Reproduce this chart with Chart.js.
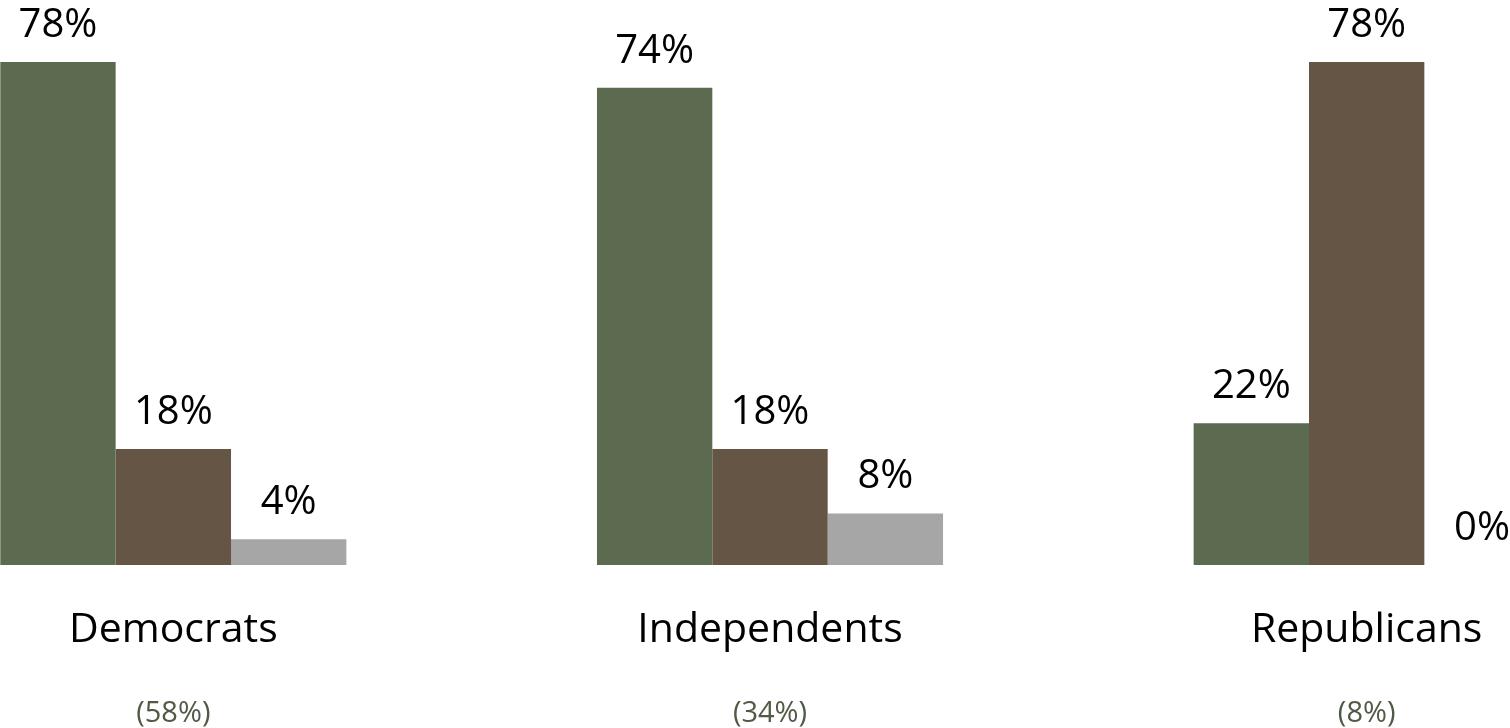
<!DOCTYPE html>
<html>
<head>
<meta charset="utf-8">
<script src="https://cdn.jsdelivr.net/npm/chart.js@4/dist/chart.umd.min.js"></script>
<style>
  html, body { margin: 0; padding: 0; background: #fff; overflow: hidden; }
  #wrap { position: relative; width: 1510px; height: 728px; overflow: hidden; }
  /* the slide is cropped on both sides, so the canvas sticks out a bit */
  #chart { position: absolute; left: -125px; top: 0; }
</style>
</head>
<body>
<div id="wrap">
  <canvas id="chart" width="1790" height="728"></canvas>
</div>
<script>
const categories = ['Democrats', 'Independents', 'Republicans'];
const shares = ['(58%)', '(34%)', '(8%)'];
const serie1 = [78, 74, 22];
const serie2 = [18, 18, 78];
const serie3 = [4, 8, 0];

const colors = ['#5c6b4f', '#645545', '#a6a6a6'];
const fontFam = '"Open Sans", "DejaVu Sans", sans-serif';

// labels over the bars + category names under the chart
const etiquetes = {
  id: 'etiquetes',
  afterDatasetsDraw(chart) {
    const ctx = chart.ctx;
    ctx.save();
    ctx.font = '40px ' + fontFam;
    ctx.fillStyle = '#000';
    ctx.textAlign = 'center';
    ctx.textBaseline = 'alphabetic';
    chart.data.datasets.forEach((ds, i) => {
      chart.getDatasetMeta(i).data.forEach((bar, j) => {
        ctx.fillText(ds.data[j] + '%', bar.x, bar.y - 25);
      });
    });
    ctx.restore();
  },
  afterDraw(chart) {
    const ctx = chart.ctx;
    const x = chart.scales.x;
    ctx.save();
    ctx.textAlign = 'center';
    ctx.textBaseline = 'alphabetic';
    categories.forEach((c, i) => {
      const px = x.getPixelForValue(i);
      ctx.font = '41px ' + fontFam;
      ctx.fillStyle = '#000';
      ctx.fillText(c, px, 642);
      ctx.font = '29px ' + fontFam;
      ctx.fillStyle = '#4f5b45';
      ctx.fillText(shares[i], px, 722);
    });
    ctx.restore();
  }
};

new Chart(document.getElementById('chart'), {
  type: 'bar',
  data: {
    labels: categories,
    datasets: [
      { label: 'Series 1', data: serie1, backgroundColor: colors[0] },
      { label: 'Series 2', data: serie2, backgroundColor: colors[1] },
      { label: 'Series 3', data: serie3, backgroundColor: colors[2] }
    ]
  },
  options: {
    responsive: false,
    animation: false,
    devicePixelRatio: 1,
    layout: { padding: { top: 4, bottom: 163, left: 0, right: 0 } },
    datasets: {
      bar: { categoryPercentage: 0.58, barPercentage: 1.0 }
    },
    plugins: {
      legend: { display: false },
      tooltip: { enabled: false }
    },
    scales: {
      x: { display: false },
      y: { display: false, min: 0, max: 87 }
    }
  },
  plugins: [etiquetes]
});
</script>
</body>
</html>
